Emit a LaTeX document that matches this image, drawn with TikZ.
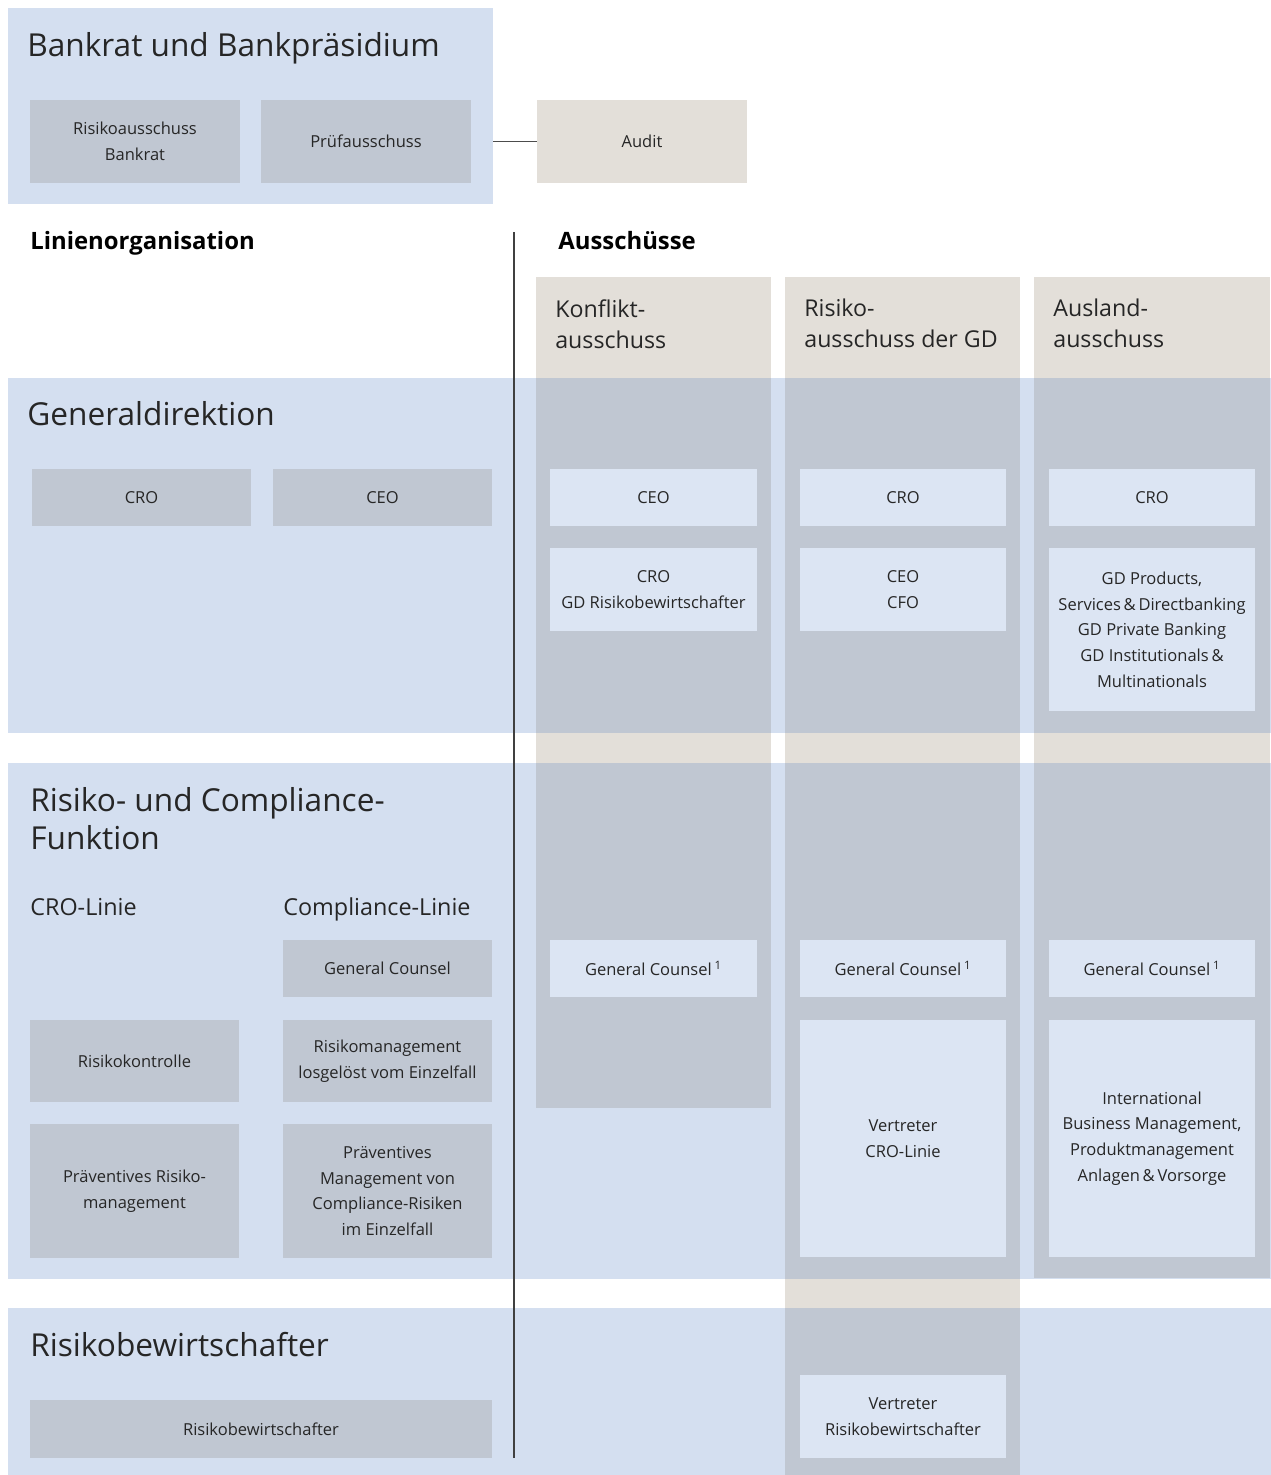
\documentclass[tikz,border=0pt]{standalone}
\usepackage{fontspec}
\setmainfont{Open Sans}
\definecolor{bandblue}{HTML}{D4DFF0}
\definecolor{colgray}{HTML}{C0C7D2}
\definecolor{beige}{HTML}{E3DFD9}
\definecolor{lightbox}{HTML}{DCE5F3}
\definecolor{txt}{HTML}{262626}
\tikzset{
  wh/.style 2 args={minimum width={#1*0.02cm}, minimum height={#2*0.02cm}, inner sep=0pt},
  graybox/.style={fill=colgray, draw=none, text=txt, align=center, font=\fontsize{9.4}{14.6}\selectfont},
  litebox/.style={fill=lightbox, draw=none, text=txt, align=center, font=\fontsize{9.4}{14.6}\selectfont},
  beigebox/.style={fill=beige, draw=none, text=txt, align=center, font=\fontsize{9.4}{14.6}\selectfont},
  bigtitle/.style={anchor=base west, inner sep=0pt, text=txt, align=left, font=\fontsize{18}{21.5}\selectfont},
  coltitle/.style={anchor=north west, inner sep=0pt, text=txt, align=left, font=\fontsize{13.2}{17.6}\selectfont},
  subtitle/.style={anchor=base west, inner sep=0pt, text=txt, font=\fontsize{13.3}{16}\selectfont},
  boldhead/.style={anchor=base west, inner sep=0pt, text=black, font=\bfseries\fontsize{13.6}{16}\selectfont},
}
\begin{document}
\begin{tikzpicture}[x=0.02cm, y=-0.02cm]
\useasboundingbox (0,0) rectangle (1271,1475);
% ---- top: Bankrat ----
\fill[bandblue] (8,8) rectangle (493,204);
\coordinate (bankrateast) at (493,141.5);
\node[bigtitle] (tbank) at (27,56) {Bankrat und Bankpräsidium};
\node[graybox, wh={210}{83}] (rab) at (135,141.5) {Risikoausschuss\\Bankrat};
\node[graybox, wh={210}{83}] (pruef) at (366,141.5) {Prüfausschuss};
\node[beigebox, wh={210}{83}] (audit) at (642,141.5) {Audit};
\draw[draw=black!70, line width=0.6pt] (bankrateast) -- (audit.west);
% ---- headings ----
\node[boldhead] (hlin) at (30,249) {Linienorganisation};
\node[boldhead] (haus) at (558,249) {Ausschüsse};
% ---- bands ----
\fill[bandblue] (8,378) rectangle (1271,733);
\fill[bandblue] (8,763) rectangle (1271,1279);
\fill[bandblue] (8,1308) rectangle (1271,1475);
% ---- columns ----
\fill[beige] (536,277) rectangle (771,1108);
\fill[colgray] (536,378) rectangle (771,733);
\fill[colgray] (536,763) rectangle (771,1108);
\fill[beige] (785,277) rectangle (1020,1475);
\fill[colgray] (785,378) rectangle (1020,733);
\fill[colgray] (785,763) rectangle (1020,1279);
\fill[colgray] (785,1308) rectangle (1020,1475);
\fill[beige] (1034,277) rectangle (1270,1278);
\fill[colgray] (1034,378) rectangle (1270,733);
\fill[colgray] (1034,763) rectangle (1270,1278);
% vertical divider
\coordinate (vtop) at (514,232);
\coordinate (vbot) at (514,1458);
\draw[draw=black!75, line width=0.6pt] (vtop) -- (vbot);
% column titles
\node[coltitle] (ck) at (555,299) {Konflikt-\\ausschuss};
\node[coltitle] (cr) at (804,299) {Risiko-\\ausschuss der GD};
\node[coltitle] (ca) at (1053,299) {Ausland-\\ausschuss};
% ---- Generaldirektion ----
\node[bigtitle] (tgd) at (27,425) {Generaldirektion};
\node[graybox, wh={219}{57}] (gdcro) at (141.5,497.5) {CRO};
\node[graybox, wh={219}{57}] (gdceo) at (382.5,497.5) {CEO};
\node[litebox, wh={207}{57}] (k1) at (653.5,497.5) {CEO};
\node[litebox, wh={207}{83}] (k2) at (653.5,589.5) {CRO\\GD Risikobewirtschafter};
\node[litebox, wh={206}{57}] (r1) at (903,497.5) {CRO};
\node[litebox, wh={206}{83}] (r2) at (903,589.5) {CEO\\CFO};
\node[litebox, wh={206}{57}] (a1) at (1152,497.5) {CRO};
\node[litebox, wh={206}{163}] (a2) at (1152,629.5) {GD Products,\\Services\,\&\,Directbanking\\GD Private Banking\\GD Institutionals\,\&\\Multinationals};
% ---- Risiko- und Compliance-Funktion ----
\node[bigtitle] (trc) at (30,849) {Risiko- und Compliance-\\Funktion};
\node[subtitle] (tcrol) at (30,915) {CRO-Linie};
\node[subtitle] (tcoml) at (283,915) {Compliance-Linie};
\node[graybox, wh={209}{57}] (gc) at (387.5,968.5) {General Counsel};
\node[graybox, wh={209}{82}] (rk) at (134.5,1061) {Risikokontrolle};
\node[graybox, wh={209}{82}] (rml) at (387.5,1061) {Risikomanagement\\losgelöst vom Einzelfall};
\node[graybox, wh={209}{134}] (prm) at (134.5,1191) {Präventives Risiko-\\management};
\node[graybox, wh={209}{134}] (pmc) at (387.5,1191) {Präventives\\Management von\\Compliance-Risiken\\im Einzelfall};
\node[litebox, wh={207}{57}] (kgc) at (653.5,968.5) {General Counsel\,\textsuperscript{1}};
\node[litebox, wh={206}{57}] (rgc) at (903,968.5) {General Counsel\,\textsuperscript{1}};
\node[litebox, wh={206}{57}] (agc) at (1152,968.5) {General Counsel\,\textsuperscript{1}};
\node[litebox, wh={206}{237}] (rvc) at (903,1138.5) {Vertreter\\CRO-Linie};
\node[litebox, wh={206}{237}] (aib) at (1152,1138.5) {International\\Business Management,\\Produktmanagement\\Anlagen\,\&\,Vorsorge};
% ---- Risikobewirtschafter ----
\node[bigtitle] (trb) at (30,1356) {Risikobewirtschafter};
\node[graybox, wh={462}{58}] (rbw) at (261,1429) {Risikobewirtschafter};
\node[litebox, wh={206}{83}] (rvr) at (903,1416.5) {Vertreter\\Risikobewirtschafter};
\end{tikzpicture}
\end{document}
